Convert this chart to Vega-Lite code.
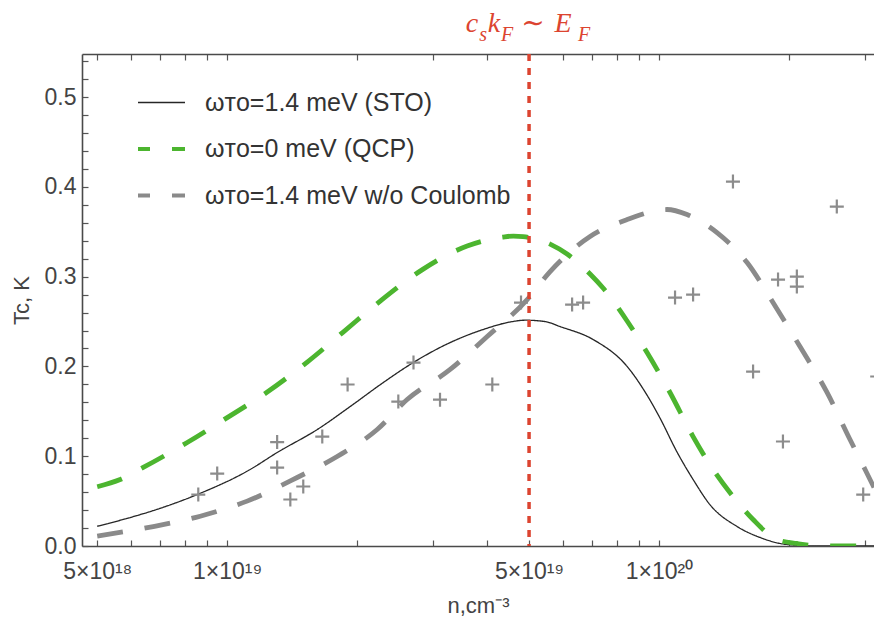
{
  "$schema": "https://vega.github.io/schema/vega-lite/v6.json",
  "width": 792,
  "height": 492,
  "autosize": {"type": "none"},
  "padding": {"left": 82, "top": 54, "right": 0, "bottom": 78},
  "background": "white",
  "config": {"view": {"stroke": null}, "font": "Liberation Sans", "aria": false},
  "datasets": {
    "curves": [
      {"n": 5e18, "tc": 0.022, "series": "STO"},
      {"n": 5.96e18, "tc": 0.0317, "series": "STO"},
      {"n": 7.0e18, "tc": 0.042, "series": "STO"},
      {"n": 8.52e18, "tc": 0.0573, "series": "STO"},
      {"n": 1.13e19, "tc": 0.0852, "series": "STO"},
      {"n": 1.305e19, "tc": 0.1041, "series": "STO"},
      {"n": 1.616e19, "tc": 0.1297, "series": "STO"},
      {"n": 1.926e19, "tc": 0.1553, "series": "STO"},
      {"n": 2.297e19, "tc": 0.182, "series": "STO"},
      {"n": 2.696e19, "tc": 0.2043, "series": "STO"},
      {"n": 3.283e19, "tc": 0.2266, "series": "STO"},
      {"n": 3.913e19, "tc": 0.2411, "series": "STO"},
      {"n": 4.52e19, "tc": 0.2495, "series": "STO"},
      {"n": 4.9e19, "tc": 0.2515, "series": "STO"},
      {"n": 5.446e19, "tc": 0.25, "series": "STO"},
      {"n": 5.9e19, "tc": 0.2444, "series": "STO"},
      {"n": 7.034e19, "tc": 0.23, "series": "STO"},
      {"n": 8.434e19, "tc": 0.2, "series": "STO"},
      {"n": 9.38e19, "tc": 0.168, "series": "STO"},
      {"n": 1.005e20, "tc": 0.1425, "series": "STO"},
      {"n": 1.101e20, "tc": 0.1045, "series": "STO"},
      {"n": 1.199e20, "tc": 0.0741, "series": "STO"},
      {"n": 1.312e20, "tc": 0.046, "series": "STO"},
      {"n": 1.516e20, "tc": 0.0217, "series": "STO"},
      {"n": 1.713e20, "tc": 0.0095, "series": "STO"},
      {"n": 1.978e20, "tc": 0.0017, "series": "STO"},
      {"n": 2.36e20, "tc": 0, "series": "STO"},
      {"n": 3.146e20, "tc": 0, "series": "STO"},
      {"n": 5e18, "tc": 0.066, "series": "QCP"},
      {"n": 5.65e18, "tc": 0.074, "series": "QCP"},
      {"n": 6.39e18, "tc": 0.0875, "series": "QCP"},
      {"n": 8.08e18, "tc": 0.1153, "series": "QCP"},
      {"n": 1e19, "tc": 0.143, "series": "QCP"},
      {"n": 1.238e19, "tc": 0.1715, "series": "QCP"},
      {"n": 1.532e19, "tc": 0.2048, "series": "QCP"},
      {"n": 1.856e19, "tc": 0.2383, "series": "QCP"},
      {"n": 2.261e19, "tc": 0.2728, "series": "QCP"},
      {"n": 2.843e19, "tc": 0.3084, "series": "QCP"},
      {"n": 3.594e19, "tc": 0.3341, "series": "QCP"},
      {"n": 4.356e19, "tc": 0.3441, "series": "QCP"},
      {"n": 4.6e19, "tc": 0.3452, "series": "QCP"},
      {"n": 4.844e19, "tc": 0.3446, "series": "QCP"},
      {"n": 5.594e19, "tc": 0.3363, "series": "QCP"},
      {"n": 6.124e19, "tc": 0.3252, "series": "QCP"},
      {"n": 6.922e19, "tc": 0.303, "series": "QCP"},
      {"n": 7.419e19, "tc": 0.2873, "series": "QCP"},
      {"n": 8.434e19, "tc": 0.2506, "series": "QCP"},
      {"n": 9.38e19, "tc": 0.2155, "series": "QCP"},
      {"n": 1.06e20, "tc": 0.171, "series": "QCP"},
      {"n": 1.199e20, "tc": 0.1219, "series": "QCP"},
      {"n": 1.334e20, "tc": 0.0852, "series": "QCP"},
      {"n": 1.484e20, "tc": 0.0551, "series": "QCP"},
      {"n": 1.651e20, "tc": 0.0295, "series": "QCP"},
      {"n": 1.875e20, "tc": 0.0072, "series": "QCP"},
      {"n": 2.086e20, "tc": 0.0028, "series": "QCP"},
      {"n": 2.36e20, "tc": 0, "series": "QCP"},
      {"n": 3.146e20, "tc": 0, "series": "QCP"},
      {"n": 5e18, "tc": 0.011, "series": "noC"},
      {"n": 6.74e18, "tc": 0.0217, "series": "noC"},
      {"n": 8.66e18, "tc": 0.0332, "series": "noC"},
      {"n": 1.112e19, "tc": 0.05, "series": "noC"},
      {"n": 1.452e19, "tc": 0.0763, "series": "noC"},
      {"n": 1.797e19, "tc": 0.0997, "series": "noC"},
      {"n": 2.225e19, "tc": 0.1297, "series": "noC"},
      {"n": 2.61e19, "tc": 0.1631, "series": "noC"},
      {"n": 3.283e19, "tc": 0.1966, "series": "noC"},
      {"n": 4.0e19, "tc": 0.2333, "series": "noC"},
      {"n": 4.95e19, "tc": 0.2745, "series": "noC"},
      {"n": 5.594e19, "tc": 0.3057, "series": "noC"},
      {"n": 6.922e19, "tc": 0.3447, "series": "noC"},
      {"n": 8.434e19, "tc": 0.3636, "series": "noC"},
      {"n": 1.043e20, "tc": 0.3748, "series": "noC"},
      {"n": 1.161e20, "tc": 0.3692, "series": "noC"},
      {"n": 1.362e20, "tc": 0.3491, "series": "noC"},
      {"n": 1.599e20, "tc": 0.3157, "series": "noC"},
      {"n": 1.836e20, "tc": 0.2712, "series": "noC"},
      {"n": 2.12e20, "tc": 0.2221, "series": "noC"},
      {"n": 2.449e20, "tc": 0.171, "series": "noC"},
      {"n": 2.768e20, "tc": 0.1186, "series": "noC"},
      {"n": 3.0e20, "tc": 0.0852, "series": "noC"},
      {"n": 3.146e20, "tc": 0.0651, "series": "noC"}
    ],
    "points": [
      {"n": 8.57e18, "tc": 0.0573},
      {"n": 9.48e18, "tc": 0.0807},
      {"n": 1.305e19, "tc": 0.1158},
      {"n": 1.305e19, "tc": 0.0874},
      {"n": 1.4e19, "tc": 0.0518},
      {"n": 1.5e19, "tc": 0.0663},
      {"n": 1.66e19, "tc": 0.1219},
      {"n": 1.9e19, "tc": 0.1799},
      {"n": 2.49e19, "tc": 0.1609},
      {"n": 2.7e19, "tc": 0.2043},
      {"n": 3.11e19, "tc": 0.163},
      {"n": 4.11e19, "tc": 0.1799},
      {"n": 4.79e19, "tc": 0.2711},
      {"n": 6.29e19, "tc": 0.2689},
      {"n": 6.67e19, "tc": 0.2711},
      {"n": 1.089e20, "tc": 0.2767},
      {"n": 1.199e20, "tc": 0.28},
      {"n": 1.483e20, "tc": 0.4059},
      {"n": 1.651e20, "tc": 0.1943},
      {"n": 1.886e20, "tc": 0.2968},
      {"n": 1.936e20, "tc": 0.1164},
      {"n": 2.085e20, "tc": 0.3001},
      {"n": 2.085e20, "tc": 0.289},
      {"n": 2.58e20, "tc": 0.3781},
      {"n": 2.97e20, "tc": 0.0573},
      {"n": 3.2e20, "tc": 0.1888}
    ]
  },
  "layer": [
    {
      "data": {"name": "curves"},
      "mark": {"type": "line", "interpolate": "monotone", "clip": true},
      "encoding": {
        "x": {
          "field": "n", "type": "quantitative",
          "scale": {"type": "log", "domain": [4.61e18, 3.146e20], "nice": false},
          "axis": {
            "orient": "bottom",
            "values": [5e18, 6e18, 7e18, 8e18, 9e18, 1e19, 2e19, 3e19, 4e19, 5e19, 6e19, 7e19, 8e19, 9e19, 1e20, 2e20, 3e20],
            "labelExpr": "datum.value == 5e18 ? '5×10¹⁸' : datum.value == 1e19 ? '1×10¹⁹' : datum.value == 5e19 ? '5×10¹⁹' : datum.value == 1e20 ? '1×10²⁰' : ''",
            "labelFont": "Liberation Sans", "labelFontSize": 23, "labelColor": "#444444",
            "labelOverlap": false, "labelFlush": false, "labelPadding": 20,
            "tickSize": -6,
            "tickColor": "#555555", "tickWidth": 1.2,
            "domainColor": "#4a4a4a", "domainWidth": 1.6, "grid": false,
            "title": "n,cm⁻³", "titleFont": "Liberation Sans", "titleFontSize": 22,
            "titleFontWeight": "normal", "titleColor": "#444444", "titlePadding": 12
          }
        },
        "y": {
          "field": "tc", "type": "quantitative",
          "scale": {"domain": [0, 0.548], "nice": false, "zero": false},
          "axis": {"orient": "left", "values": [0, 0.02, 0.04, 0.06, 0.08, 0.1, 0.12, 0.14, 0.16, 0.18, 0.2, 0.22, 0.24, 0.26, 0.28, 0.3, 0.32, 0.34, 0.36, 0.38, 0.4, 0.42, 0.44, 0.46, 0.48, 0.5, 0.52, 0.54], "labelExpr": "abs(datum.value*10 - round(datum.value*10)) < 0.001 ? format(datum.value, '.1f') : ''", "labelFont": "Liberation Sans", "labelFontSize": 23, "labelColor": "#444444", "labelOverlap": false, "labelFlush": false, "labelPadding": 12, "tickSize": -6, "tickColor": "#555555", "tickWidth": 1.2, "domainColor": "#4a4a4a", "domainWidth": 1.6, "grid": false, "title": "Tc, K", "titleFont": "Liberation Sans", "titleFontSize": 22, "titleFontWeight": "normal", "titleColor": "#444444", "titlePadding": 11}
        },
        "color": {
          "field": "series", "type": "nominal",
          "scale": {"domain": ["STO", "QCP", "noC"], "range": ["#262626", "#4cb52f", "#8a8a8a"]},
          "legend": {
            "orient": "none", "legendX": 67, "legendY": 36,
            "title": null, "padding": 0,
            "symbolType": "stroke", "symbolSize": 2209,
            "symbolStrokeWidth": {"expr": "datum.value === 'STO' ? 1.3 : 4"},
            "symbolDashOffset": 14,
            "labelFont": "Liberation Sans", "labelFontSize": 25, "labelColor": "#333333",
            "labelOffset": 31, "rowPadding": 20.5, "labelLimit": 0,
            "labelExpr": "datum.value === 'STO' ? 'ωᴛᴏ=1.4 meV (STO)' : datum.value === 'QCP' ? 'ωᴛᴏ=0 meV (QCP)' : 'ωᴛᴏ=1.4 meV w/o Coulomb'"
          }
        },
        "strokeDash": {
          "field": "series", "type": "nominal",
          "scale": {"domain": ["STO", "QCP", "noC"], "range": [[1, 0], [26, 22], [26, 22]]}
        },
        "strokeWidth": {"condition": {"test": "datum.series === 'STO'", "value": 1.3}, "value": 4.8}
      }
    },
    {
      "data": {"name": "points"},
      "mark": {"type": "point", "shape": "M-1,0H1M0,-1V1", "filled": false, "size": 196, "strokeWidth": 2.2, "color": "#8c8c8c", "opacity": 1, "clip": true},
      "encoding": {
        "x": {"field": "n", "type": "quantitative", "axis": null},
        "y": {"field": "tc", "type": "quantitative", "axis": {"orient": "left", "values": [0, 0.02, 0.04, 0.06, 0.08, 0.1, 0.12, 0.14, 0.16, 0.18, 0.2, 0.22, 0.24, 0.26, 0.28, 0.3, 0.32, 0.34, 0.36, 0.38, 0.4, 0.42, 0.44, 0.46, 0.48, 0.5, 0.52, 0.54], "labelExpr": "abs(datum.value*10 - round(datum.value*10)) < 0.001 ? format(datum.value, '.1f') : ''", "labelFont": "Liberation Sans", "labelFontSize": 23, "labelColor": "#444444", "labelOverlap": false, "labelFlush": false, "labelPadding": 12, "tickSize": -6, "tickColor": "#555555", "tickWidth": 1.2, "domainColor": "#4a4a4a", "domainWidth": 1.6, "grid": false, "title": "Tc, K", "titleFont": "Liberation Sans", "titleFontSize": 22, "titleFontWeight": "normal", "titleColor": "#444444", "titlePadding": 11}}
      }
    },
    {
      "data": {"values": [{}]},
      "mark": {"type": "rule", "color": "#dc4430", "strokeWidth": 3.5, "strokeDash": [7, 7]},
      "encoding": {
        "x": {
          "datum": 5e19, "type": "quantitative",
          "axis": {
            "orient": "top",
            "values": [5e18, 6e18, 7e18, 8e18, 9e18, 1e19, 2e19, 3e19, 4e19, 5e19, 6e19, 7e19, 8e19, 9e19, 1e20, 2e20, 3e20],
            "labels": false,
            "tickSize": -6,
            "tickColor": "#555555", "tickWidth": 1.2,
            "domainColor": "#4a4a4a", "domainWidth": 1.6, "grid": false, "title": null
          }
        }
      }
    },
    {
      "data": {"values": [{}]},
      "mark": {"type": "text", "text": "c", "font": "Liberation Serif", "fontStyle": "italic", "fontSize": 28, "color": "#dc4430", "align": "center", "baseline": "alphabetic", "dx": -57, "dy": -22},
      "encoding": {"x": {"datum": 5e19, "type": "quantitative", "axis": null}, "y": {"datum": 0.548, "type": "quantitative", "axis": {"orient": "left", "values": [0, 0.02, 0.04, 0.06, 0.08, 0.1, 0.12, 0.14, 0.16, 0.18, 0.2, 0.22, 0.24, 0.26, 0.28, 0.3, 0.32, 0.34, 0.36, 0.38, 0.4, 0.42, 0.44, 0.46, 0.48, 0.5, 0.52, 0.54], "labelExpr": "abs(datum.value*10 - round(datum.value*10)) < 0.001 ? format(datum.value, '.1f') : ''", "labelFont": "Liberation Sans", "labelFontSize": 23, "labelColor": "#444444", "labelOverlap": false, "labelFlush": false, "labelPadding": 12, "tickSize": -6, "tickColor": "#555555", "tickWidth": 1.2, "domainColor": "#4a4a4a", "domainWidth": 1.6, "grid": false, "title": "Tc, K", "titleFont": "Liberation Sans", "titleFontSize": 22, "titleFontWeight": "normal", "titleColor": "#444444", "titlePadding": 11}}}
    },
    {
      "data": {"values": [{}]},
      "mark": {"type": "text", "text": "s", "font": "Liberation Serif", "fontStyle": "italic", "fontSize": 20, "color": "#dc4430", "align": "center", "baseline": "alphabetic", "dx": -46, "dy": -13},
      "encoding": {"x": {"datum": 5e19, "type": "quantitative", "axis": null}, "y": {"datum": 0.548, "type": "quantitative", "axis": {"orient": "left", "values": [0, 0.02, 0.04, 0.06, 0.08, 0.1, 0.12, 0.14, 0.16, 0.18, 0.2, 0.22, 0.24, 0.26, 0.28, 0.3, 0.32, 0.34, 0.36, 0.38, 0.4, 0.42, 0.44, 0.46, 0.48, 0.5, 0.52, 0.54], "labelExpr": "abs(datum.value*10 - round(datum.value*10)) < 0.001 ? format(datum.value, '.1f') : ''", "labelFont": "Liberation Sans", "labelFontSize": 23, "labelColor": "#444444", "labelOverlap": false, "labelFlush": false, "labelPadding": 12, "tickSize": -6, "tickColor": "#555555", "tickWidth": 1.2, "domainColor": "#4a4a4a", "domainWidth": 1.6, "grid": false, "title": "Tc, K", "titleFont": "Liberation Sans", "titleFontSize": 22, "titleFontWeight": "normal", "titleColor": "#444444", "titlePadding": 11}}}
    },
    {
      "data": {"values": [{}]},
      "mark": {"type": "text", "text": "k", "font": "Liberation Serif", "fontStyle": "italic", "fontSize": 28, "color": "#dc4430", "align": "center", "baseline": "alphabetic", "dx": -35, "dy": -22},
      "encoding": {"x": {"datum": 5e19, "type": "quantitative", "axis": null}, "y": {"datum": 0.548, "type": "quantitative", "axis": {"orient": "left", "values": [0, 0.02, 0.04, 0.06, 0.08, 0.1, 0.12, 0.14, 0.16, 0.18, 0.2, 0.22, 0.24, 0.26, 0.28, 0.3, 0.32, 0.34, 0.36, 0.38, 0.4, 0.42, 0.44, 0.46, 0.48, 0.5, 0.52, 0.54], "labelExpr": "abs(datum.value*10 - round(datum.value*10)) < 0.001 ? format(datum.value, '.1f') : ''", "labelFont": "Liberation Sans", "labelFontSize": 23, "labelColor": "#444444", "labelOverlap": false, "labelFlush": false, "labelPadding": 12, "tickSize": -6, "tickColor": "#555555", "tickWidth": 1.2, "domainColor": "#4a4a4a", "domainWidth": 1.6, "grid": false, "title": "Tc, K", "titleFont": "Liberation Sans", "titleFontSize": 22, "titleFontWeight": "normal", "titleColor": "#444444", "titlePadding": 11}}}
    },
    {
      "data": {"values": [{}]},
      "mark": {"type": "text", "text": "F", "font": "Liberation Serif", "fontStyle": "italic", "fontSize": 20, "color": "#dc4430", "align": "center", "baseline": "alphabetic", "dx": -22, "dy": -13},
      "encoding": {"x": {"datum": 5e19, "type": "quantitative", "axis": null}, "y": {"datum": 0.548, "type": "quantitative", "axis": {"orient": "left", "values": [0, 0.02, 0.04, 0.06, 0.08, 0.1, 0.12, 0.14, 0.16, 0.18, 0.2, 0.22, 0.24, 0.26, 0.28, 0.3, 0.32, 0.34, 0.36, 0.38, 0.4, 0.42, 0.44, 0.46, 0.48, 0.5, 0.52, 0.54], "labelExpr": "abs(datum.value*10 - round(datum.value*10)) < 0.001 ? format(datum.value, '.1f') : ''", "labelFont": "Liberation Sans", "labelFontSize": 23, "labelColor": "#444444", "labelOverlap": false, "labelFlush": false, "labelPadding": 12, "tickSize": -6, "tickColor": "#555555", "tickWidth": 1.2, "domainColor": "#4a4a4a", "domainWidth": 1.6, "grid": false, "title": "Tc, K", "titleFont": "Liberation Sans", "titleFontSize": 22, "titleFontWeight": "normal", "titleColor": "#444444", "titlePadding": 11}}}
    },
    {
      "data": {"values": [{}]},
      "mark": {"type": "text", "text": "∼", "font": "DejaVu Serif", "fontSize": 28, "color": "#dc4430", "align": "center", "baseline": "alphabetic", "dx": 4, "dy": -22},
      "encoding": {"x": {"datum": 5e19, "type": "quantitative", "axis": null}, "y": {"datum": 0.548, "type": "quantitative", "axis": {"orient": "left", "values": [0, 0.02, 0.04, 0.06, 0.08, 0.1, 0.12, 0.14, 0.16, 0.18, 0.2, 0.22, 0.24, 0.26, 0.28, 0.3, 0.32, 0.34, 0.36, 0.38, 0.4, 0.42, 0.44, 0.46, 0.48, 0.5, 0.52, 0.54], "labelExpr": "abs(datum.value*10 - round(datum.value*10)) < 0.001 ? format(datum.value, '.1f') : ''", "labelFont": "Liberation Sans", "labelFontSize": 23, "labelColor": "#444444", "labelOverlap": false, "labelFlush": false, "labelPadding": 12, "tickSize": -6, "tickColor": "#555555", "tickWidth": 1.2, "domainColor": "#4a4a4a", "domainWidth": 1.6, "grid": false, "title": "Tc, K", "titleFont": "Liberation Sans", "titleFontSize": 22, "titleFontWeight": "normal", "titleColor": "#444444", "titlePadding": 11}}}
    },
    {
      "data": {"values": [{}]},
      "mark": {"type": "text", "text": "E", "font": "Liberation Serif", "fontStyle": "italic", "fontSize": 28, "color": "#dc4430", "align": "center", "baseline": "alphabetic", "dx": 34, "dy": -22},
      "encoding": {"x": {"datum": 5e19, "type": "quantitative", "axis": null}, "y": {"datum": 0.548, "type": "quantitative", "axis": {"orient": "left", "values": [0, 0.02, 0.04, 0.06, 0.08, 0.1, 0.12, 0.14, 0.16, 0.18, 0.2, 0.22, 0.24, 0.26, 0.28, 0.3, 0.32, 0.34, 0.36, 0.38, 0.4, 0.42, 0.44, 0.46, 0.48, 0.5, 0.52, 0.54], "labelExpr": "abs(datum.value*10 - round(datum.value*10)) < 0.001 ? format(datum.value, '.1f') : ''", "labelFont": "Liberation Sans", "labelFontSize": 23, "labelColor": "#444444", "labelOverlap": false, "labelFlush": false, "labelPadding": 12, "tickSize": -6, "tickColor": "#555555", "tickWidth": 1.2, "domainColor": "#4a4a4a", "domainWidth": 1.6, "grid": false, "title": "Tc, K", "titleFont": "Liberation Sans", "titleFontSize": 22, "titleFontWeight": "normal", "titleColor": "#444444", "titlePadding": 11}}}
    },
    {
      "data": {"values": [{}]},
      "mark": {"type": "text", "text": "F", "font": "Liberation Serif", "fontStyle": "italic", "fontSize": 20, "color": "#dc4430", "align": "center", "baseline": "alphabetic", "dx": 55, "dy": -13},
      "encoding": {"x": {"datum": 5e19, "type": "quantitative", "axis": null}, "y": {"datum": 0.548, "type": "quantitative", "axis": {"orient": "left", "values": [0, 0.02, 0.04, 0.06, 0.08, 0.1, 0.12, 0.14, 0.16, 0.18, 0.2, 0.22, 0.24, 0.26, 0.28, 0.3, 0.32, 0.34, 0.36, 0.38, 0.4, 0.42, 0.44, 0.46, 0.48, 0.5, 0.52, 0.54], "labelExpr": "abs(datum.value*10 - round(datum.value*10)) < 0.001 ? format(datum.value, '.1f') : ''", "labelFont": "Liberation Sans", "labelFontSize": 23, "labelColor": "#444444", "labelOverlap": false, "labelFlush": false, "labelPadding": 12, "tickSize": -6, "tickColor": "#555555", "tickWidth": 1.2, "domainColor": "#4a4a4a", "domainWidth": 1.6, "grid": false, "title": "Tc, K", "titleFont": "Liberation Sans", "titleFontSize": 22, "titleFontWeight": "normal", "titleColor": "#444444", "titlePadding": 11}}}
    }
  ]
}
